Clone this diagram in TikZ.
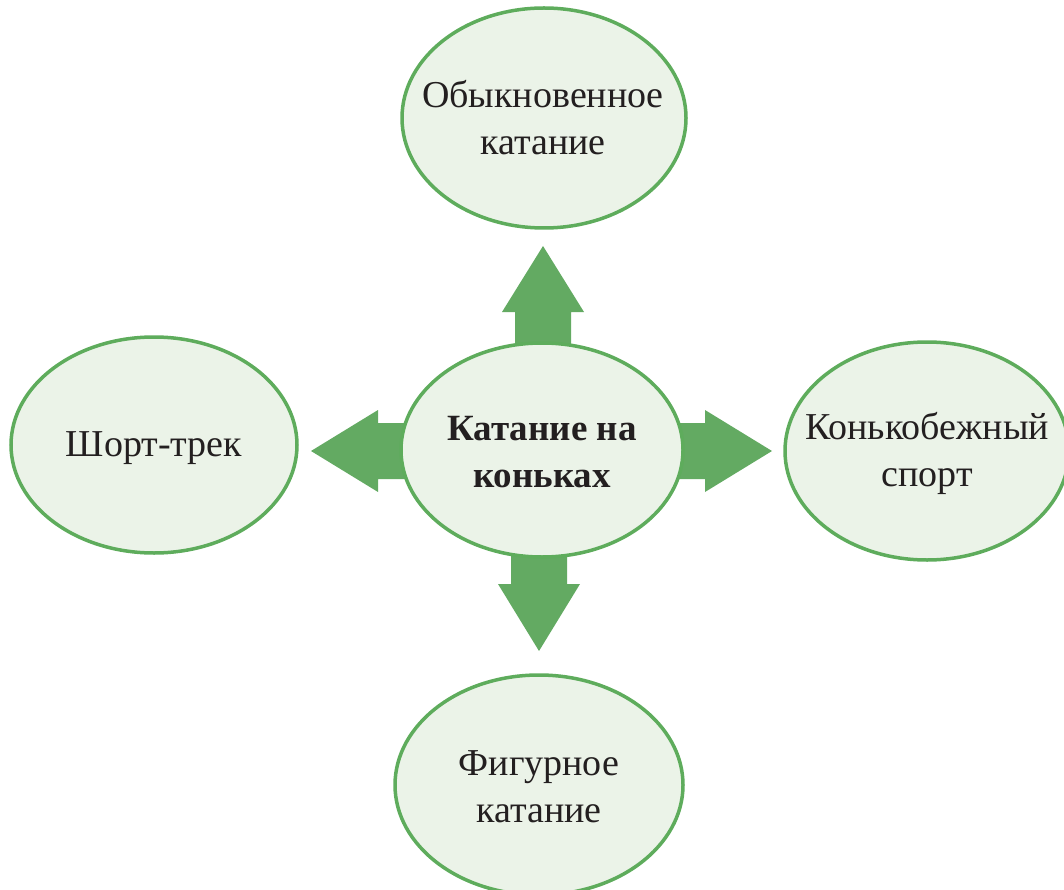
\documentclass[tikz,border=0pt]{standalone}
\usepackage{fontspec}
\setmainfont{Liberation Serif}
\usetikzlibrary{shapes}

\definecolor{leafline}{RGB}{94,172,92}
\definecolor{leaffill}{RGB}{235,243,232}
\definecolor{arrowgreen}{RGB}{99,170,98}
\definecolor{inkdark}{RGB}{35,31,32}

\tikzset{
    bubble/.style={draw=leafline, fill=leaffill, line width=3.5pt},
    caption/.style={inner sep=0pt, align=center, text=inkdark,
        font=\fontsize{38}{47}\selectfont},
    blockarrow/.style={fill=arrowgreen}
}

\begin{document}
\begin{tikzpicture}[x=1pt, y=-1pt]

            \useasboundingbox (0,0) rectangle (1064,890);

            % block arrows, drawn first so the hub covers their tails
            \fill[blockarrow] (515,370) -- (515,312) -- (502,312)
            -- (543,246) -- (584,312) -- (571,312) -- (571,370) -- cycle;

            \fill[blockarrow] (430,423) -- (378,423) -- (378,410)
            -- (311,451) -- (378,492) -- (378,479) -- (430,479) -- cycle;

            \fill[blockarrow] (655,423) -- (705,423) -- (705,410)
            -- (772,451) -- (705,492) -- (705,479) -- (655,479) -- cycle;

            \fill[blockarrow] (511,530) -- (511,584) -- (498,584)
            -- (539,651) -- (580,584) -- (567,584) -- (567,530) -- cycle;

            % ellipses
            \filldraw[bubble] (542,450) ellipse [x radius=141, y radius=107];
            \filldraw[bubble] (544,118) ellipse [x radius=142, y radius=110];
            \filldraw[bubble] (154,445) ellipse [x radius=143, y radius=108];
            \filldraw[bubble] (927,451) ellipse [x radius=142, y radius=109];
            \filldraw[bubble] (539,785) ellipse [x radius=144, y radius=110];

            \node[caption, font=\fontsize{37}{47}\selectfont\bfseries] (hub) at (542,452)
                {Катание на\\коньках};

            \node[caption] (usual) at (543,118) {Обыкновенное\\катание};

            \node[caption] (short) at (154,448) {Шорт-трек};

            \node[caption] (speed) at (927,453) {Конькобежный\\спорт};

            \node[caption] (figure) at (539,787) {Фигурное\\катание};
        \end{tikzpicture}
\end{document}
